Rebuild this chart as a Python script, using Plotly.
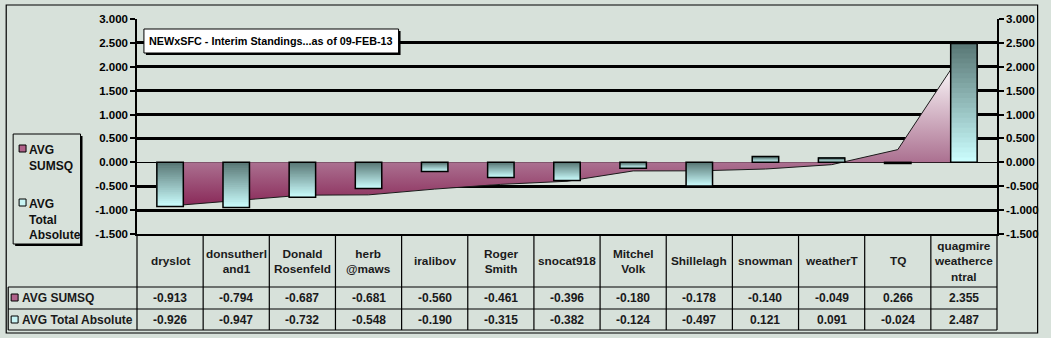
import plotly.graph_objects as go

# ---------------- data ----------------
categories = ["dryslot", "donsutherland1", "Donald Rosenfeld", "herb @maws", "iralibov",
              "Roger Smith", "snocat918", "Mitchel Volk", "Shillelagh", "snowman",
              "weatherT", "TQ", "quagmire weathercentral"]
header_labels = ["dryslot", "donsutherl<br>and1", "Donald<br>Rosenfeld", "herb<br>@maws", "iralibov",
                 "Roger<br>Smith", "snocat918", "Mitchel<br>Volk", "Shillelagh", "snowman",
                 "weatherT", "TQ", "quagmire<br>weatherce<br>ntral"]
avg_sumsq = [-0.913, -0.794, -0.687, -0.681, -0.560, -0.461, -0.396, -0.180, -0.178, -0.140,
             -0.049, 0.266, 2.355]
avg_total_abs = [-0.926, -0.947, -0.732, -0.548, -0.190, -0.315, -0.382, -0.124, -0.497, 0.121,
                 0.091, -0.024, 2.487]
y_tick_vals = [-1.5, -1.0, -0.5, 0.0, 0.5, 1.0, 1.5, 2.0, 2.5, 3.0]
y_tick_text = ["-1.500", "-1.000", "-0.500", "0.000", "0.500", "1.000", "1.500", "2.000", "2.500", "3.000"]
title_text = "NEWxSFC - Interim Standings...as of 09-FEB-13"
series_names = ["AVG SUMSQ", "AVG Total Absolute"]

# ---------------- layout geometry (pixels) ----------------
W, H = 1051, 338
PL, PR, PT, PB = 137, 1005, 19, 234  # plot area
BG = "#d7e1da"
FONT = "Liberation Sans"


def px(x):
    return (x - PL) / (PR - PL)


def py(y):
    return (PB - y) / (PB - PT)


fig = go.Figure()

# area series (AVG SUMSQ) on main axis
fig.add_trace(go.Scatter(
    x=categories, y=avg_sumsq, mode="lines", fill="tozeroy",
    line=dict(color="#1a1a1a", width=1),
    fillgradient=dict(type="vertical", start=-0.95, stop=2.1,
                      colorscale=[[0, "#882656"], [0.31, "#ab7090"], [1, "#ffffff"]]),
    showlegend=False, xaxis="x", yaxis="y", hoverinfo="skip"))

# bars (AVG Total Absolute) with vertical gradient, on overlaying axis so they sit on top
light = (204, 255, 255)
dark = (88, 118, 116)
K = 24
tops = [max(v, 0) for v in avg_total_abs]
bots = [min(v, 0) for v in avg_total_abs]
for k in range(K):
    f = (k + 0.5) / K
    col = "rgb(%d,%d,%d)" % tuple(round(light[j] * (1 - f) + dark[j] * f) for j in range(3))
    bases = [b + (t - b) * k / K for t, b in zip(tops, bots)]
    heights = [t - bs for t, bs in zip(tops, bases)]
    fig.add_trace(go.Bar(x=categories, y=heights, base=bases, width=0.4,
                         marker=dict(color=col, line=dict(width=0)),
                         showlegend=False, xaxis="x", yaxis="y2", hoverinfo="skip"))
fig.add_trace(go.Bar(x=categories, y=avg_total_abs, width=0.4,
                     marker=dict(color="rgba(0,0,0,0)", line=dict(color="black", width=1.5)),
                     showlegend=False, xaxis="x", yaxis="y2", hoverinfo="skip"))

tickfont = dict(family=FONT, size=11.5, color="black", weight="bold")
yax_common = dict(range=[-1.5, 3.0], tickmode="array", tickvals=y_tick_vals, ticktext=y_tick_text,
                  showline=True, linecolor="black", linewidth=1.5, ticks="outside",
                  ticklen=5, tickwidth=1.5, tickcolor="black", tickfont=tickfont, fixedrange=True)

fig.update_layout(
    width=W, height=H, autosize=False,
    margin=dict(l=PL, r=W - PR, t=PT, b=H - PB, pad=0),
    paper_bgcolor=BG, plot_bgcolor=BG,
    barmode="overlay", showlegend=False,
    xaxis=dict(type="category", categoryorder="array", categoryarray=categories,
               range=[-0.5, len(categories) - 0.5], showticklabels=False, ticks="",
               showgrid=False, zeroline=False, showline=True, linecolor="black", linewidth=1.5,
               fixedrange=True),
    yaxis=dict(**yax_common, side="left", showgrid=True, gridcolor="black", gridwidth=2.8,
               zeroline=True, zerolinecolor="black", zerolinewidth=1),
    yaxis2=dict(**yax_common, side="right", overlaying="y", showgrid=False, zeroline=False),
)

shapes = []
annotations = []


def rect(x0, y0, x1, y1, fill, line_color="black", lw=1):
    shapes.append(dict(type="rect", xref="paper", yref="paper",
                       x0=px(x0), x1=px(x1), y0=py(y0), y1=py(y1),
                       fillcolor=fill, line=dict(color=line_color, width=lw), layer="above"))


def line(x0, y0, x1, y1, lw=1.2):
    shapes.append(dict(type="line", xref="paper", yref="paper",
                       x0=px(x0), x1=px(x1), y0=py(y0), y1=py(y1),
                       line=dict(color="black", width=lw), layer="above"))


# outer chart border
rect(5, 5, 1046, 333, "rgba(0,0,0,0)", lw=1.2)

# title box with shadow
rect(146, 31, 403, 55, "black", lw=0)
rect(144, 29, 401, 53, "white", lw=1)
annotations.append(dict(xref="paper", yref="paper", x=px(147), y=py(41), xanchor="left",
                        yanchor="middle", showarrow=False, text=title_text,
                        font=dict(family=FONT, size=10.8, color="black", weight="bold")))

# legend box with shadow
rect(14, 136, 82, 246, "black", lw=0)
rect(12, 134, 80, 244, BG, lw=1)
rect(18, 145, 25, 152, "#b0628a", lw=1)
rect(18, 199, 25, 206, "#c8f4f4", lw=1)
legend_texts = ["AVG<br>SUMSQ", "AVG<br>Total<br>Absolute"]
for txt, ytop in zip(legend_texts, [141, 195]):
    annotations.append(dict(xref="paper", yref="paper", x=px(26), y=py(ytop), xanchor="left",
                            yanchor="top", align="left", showarrow=False, text=txt,
                            font=dict(family=FONT, size=12, color="#111", weight="bold")))

# data table grid
n = len(categories)
cw = (PR - PL) / n
for i in range(n + 1):
    line(PL + i * cw, PB, PL + i * cw, 330)
for yy in [287, 309, 330]:
    line(7, yy, PR, yy)
line(7, 287, 7, 330)

# header labels and values
tfont = dict(family=FONT, size=11.8, color="#1a1a1a", weight="bold")
vfont = dict(family=FONT, size=12, color="#1a1a1a", weight="bold")
for cat, lab, s, a in zip(categories, header_labels, avg_sumsq, avg_total_abs):
    annotations.append(dict(xref="x", yref="paper", x=cat, y=py(261), xanchor="center",
                            yanchor="middle", align="center", showarrow=False, text=lab, font=tfont))
    annotations.append(dict(xref="x", yref="paper", x=cat, y=py(298), xanchor="center",
                            yanchor="middle", showarrow=False, text="%.3f" % s, font=vfont))
    annotations.append(dict(xref="x", yref="paper", x=cat, y=py(320), xanchor="center",
                            yanchor="middle", showarrow=False, text="%.3f" % a, font=vfont))

# row labels
rect(10, 294, 17, 301, "#b0628a", lw=1)
rect(10, 316, 17, 323, "#c8f4f4", lw=1)
for name, yy in zip(series_names, [298, 320]):
    annotations.append(dict(xref="paper", yref="paper", x=px(19), y=py(yy), xanchor="left",
                            yanchor="middle", showarrow=False, text=name, font=vfont))

fig.update_layout(shapes=shapes, annotations=annotations)
fig.write_html("out.html")
